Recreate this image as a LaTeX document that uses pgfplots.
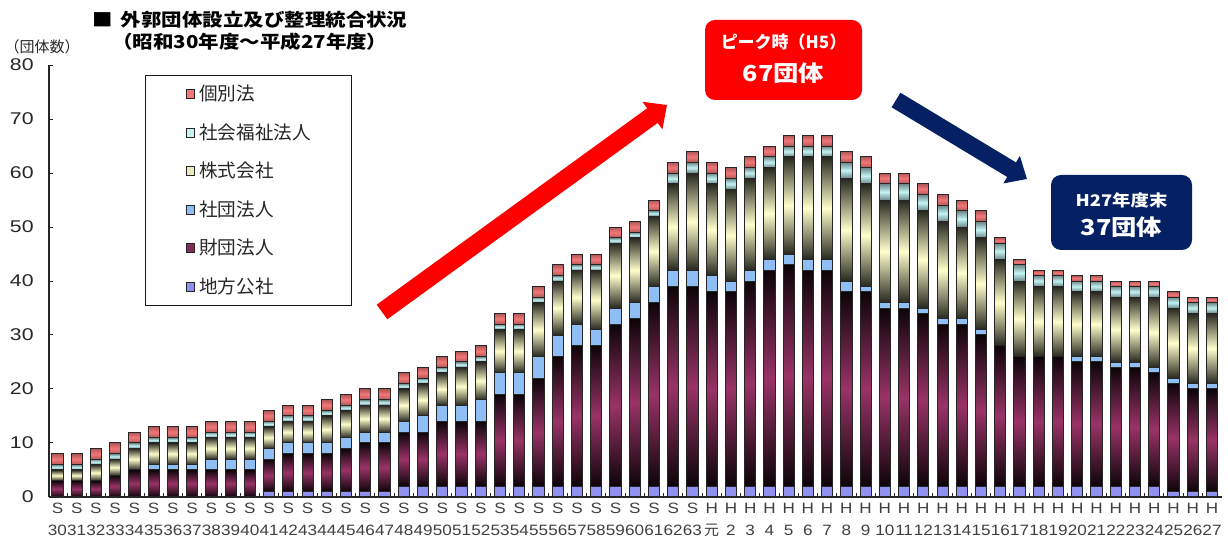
\documentclass[border=0pt]{standalone}
\usepackage{fontspec}
\usepackage{pgfplots}
\usepackage{pgfplotstable}
\pgfplotsset{compat=1.18}
\usetikzlibrary{arrows.meta}
\setmainfont{Noto Sans CJK JP}
\newfontfamily\jp{Noto Sans CJK JP}
\newfontfamily\jps{Noto Sans CJK JP}[FakeStretch=1.15]
\newfontfamily\lat{Liberation Sans}[FakeStretch=1.14]
\newfontfamily\laty{Liberation Sans}[FakeStretch=1.25]

\definecolor{kobetsuC}{HTML}{F47878}
\definecolor{fukushiC}{HTML}{C4F4F4}
\definecolor{kabuC}{HTML}{FFFFCC}
\definecolor{shadanC}{HTML}{8EBEF4}
\definecolor{zaidanC}{HTML}{993366}
\definecolor{chihoC}{HTML}{9090F0}
\definecolor{arrowred}{HTML}{FF0000}
\definecolor{navy}{HTML}{062163}

\pgfplotstableread{
x chiho zaidan shadan kabu fukushi kobetsu
0 0 3 0 2 1 2
1 0 3 0 2 1 2
2 0 3 0 3 1 2
3 0 4 0 3 1 2
4 0 5 0 4 1 2
5 0 5 1 4 1 2
6 0 5 1 4 1 2
7 0 5 1 4 1 2
8 0 5 2 4 1 2
9 0 5 2 4 1 2
10 0 5 2 4 1 2
11 1 6 2 4 1 2
12 1 7 2 4 1 2
13 1 7 2 4 1 2
14 1 7 2 5 1 2
15 1 8 2 5 1 2
16 1 9 2 5 1 2
17 1 9 2 5 1 2
18 2 10 2 6 1 2
19 2 10 3 6 1 2
20 2 12 3 6 1 2
21 2 12 3 7 1 2
22 2 12 4 7 1 2
23 2 17 4 8 1 2
24 2 17 4 8 1 2
25 2 20 4 10 1 2
26 2 24 4 10 1 2
27 2 26 4 10 1 2
28 2 26 3 11 1 2
29 2 30 3 12 1 2
30 2 31 3 12 1 2
31 2 34 3 13 1 2
32 2 37 3 16 2 2
33 2 37 3 18 2 2
34 2 36 3 17 2 2
35 2 36 2 17 2 2
36 2 38 2 17 2 2
37 2 40 2 17 2 2
38 2 41 2 18 2 2
39 2 40 2 19 2 2
40 2 40 2 19 2 2
41 2 36 2 19 3 2
42 2 36 1 19 3 2
43 2 33 1 19 3 2
44 2 33 1 19 3 2
45 2 32 1 18 3 2
46 2 30 1 18 3 2
47 2 30 1 17 3 2
48 2 28 1 17 3 2
49 2 26 0 16 3 1
50 2 24 0 14 3 1
51 2 24 0 13 2 1
52 2 24 0 13 2 1
53 2 23 1 12 2 1
54 2 23 1 12 2 1
55 2 22 1 12 2 1
56 2 22 1 12 2 1
57 2 21 1 13 2 1
58 1 20 1 13 2 1
59 1 19 1 13 2 1
60 1 19 1 13 2 1
}\data

\pgfdeclareplotmark{none0}{}
\pgfplotsset{
  sq/.style={legend image code/.code={\path[draw=black!85,fill=#1,line width=0.5pt] (0pt,-2.2pt) rectangle (4.4pt,2.2pt);}},
  shbar/.style n args={3}{forget plot, only marks, scatter, mark=none0,
    visualization depends on={\thisrow{#1} \as \segv},
    scatter/@pre marker code/.code={\path[draw=black!85, line width=0.5pt, top color=#3, bottom color=#3, middle color=#2] (-2.8pt,{-\segv*2.7pt}) rectangle (2.8pt,0pt);},
    scatter/@post marker code/.code={}},
}

\begin{document}
\begin{tikzpicture}
\useasboundingbox (0,0) rectangle (614pt,270pt);
\begin{axis}[
  scale only axis, width=586.5pt, height=216pt,
  at={(24.5pt,21.5pt)}, anchor=south west,
  xmin=-0.44, xmax=60.52, ymin=0, ymax=80,
  ybar stacked, bar width=5.6pt,
  axis x line*=bottom, axis y line*=left,
  axis line style={-, black!85, line width=0.6pt},
  ytick={0,10,...,80},
  xtick={0.5,1.5,...,59.5}, xticklabels={},
  extra x ticks={0,1,...,60},
  extra x tick style={major tick length=0pt},
  extra x tick labels={{S\\30},{S\\31},{S\\32},{S\\33},{S\\34},{S\\35},{S\\36},{S\\37},{S\\38},{S\\39},{S\\40},{S\\41},{S\\42},{S\\43},{S\\44},{S\\45},{S\\46},{S\\47},{S\\48},{S\\49},{S\\50},{S\\51},{S\\52},{S\\53},{S\\54},{S\\55},{S\\56},{S\\57},{S\\58},{S\\59},{S\\60},{S\\61},{S\\62},{S\\63},{H\\{\jp 元}},{H\\2},{H\\3},{H\\4},{H\\5},{H\\6},{H\\7},{H\\8},{H\\9},{H\\10},{H\\11},{H\\12},{H\\13},{H\\14},{H\\15},{H\\16},{H\\17},{H\\18},{H\\19},{H\\20},{H\\21},{H\\22},{H\\23},{H\\24},{H\\25},{H\\26},{H\\27}},
  tick align=inside, major tick length=2.2pt,
  tick style={black!85, line width=0.5pt},
  /pgf/number format/assume math mode=true,
  yticklabel style={font=\laty\fontsize{8.5}{10}\selectfont, text=black!85, inner sep=0pt, anchor=east, xshift=-7.5pt},
  xticklabel style={font=\lat\fontsize{7.5}{11}\selectfont, text=black!75, align=center, inner sep=0pt, anchor=north, yshift=-3pt},
  legend style={at={(0.0818,0.9769)}, anchor=north west, draw=black!90, line width=0.6pt, fill=white,
    inner xsep=20pt, inner ysep=5.1pt, row sep=10.75pt, column sep=2pt,
    font=\jp\fontsize{9.3}{11}\selectfont, text=black!85,
    nodes={inner sep=0pt, text height=7.5pt, text depth=1pt, text width=56pt, anchor=west}},
  legend cell align=left, reverse legend,
]
\addplot[forget plot, draw=black!85, line width=0.5pt, fill=chihoC] table[x=x,y=chiho]{\data};
\addplot[shbar={zaidan}{zaidanC}{zaidanC!8!black}] table[x=x,y=zaidan]{\data};
\addplot[forget plot, draw=black!85, line width=0.5pt, fill=shadanC] table[x=x,y=shadan]{\data};
\addplot[shbar={kabu}{kabuC}{kabuC!15!black}] table[x=x,y=kabu]{\data};
\addplot[shbar={fukushi}{fukushiC}{fukushiC!55!black}] table[x=x,y=fukushi]{\data};
\addplot[shbar={kobetsu}{kobetsuC}{kobetsuC!72!black}] table[x=x,y=kobetsu]{\data};
\addlegendimage{sq=chihoC}
\addlegendentry{地方公社}
\addlegendimage{sq=zaidanC!85!black}
\addlegendentry{財団法人}
\addlegendimage{sq=shadanC}
\addlegendentry{社団法人}
\addlegendimage{sq=kabuC!92!black}
\addlegendentry{株式会社}
\addlegendimage{sq=fukushiC}
\addlegendentry{社会福祉法人}
\addlegendimage{sq=kobetsuC}
\addlegendentry{個別法}
\end{axis}
% title
\node[anchor=west, inner sep=0pt, font=\jps\bfseries\fontsize{8.9}{10}\selectfont] at (46pt,260pt) {■\hspace{4pt}外郭団体設立及び整理統合状況};
\node[anchor=west, inner sep=0pt, font=\jps\bfseries\fontsize{8.9}{10}\selectfont] at (56pt,249.25pt) {（昭和30年度～平成27年度）};
\node[inner sep=0pt, font=\jp\fontsize{7.5}{9}\selectfont, text=black!85] at (21pt,246.75pt) {（団体数）};
% arrows
\draw[line width=9pt, arrowred, -{Triangle[width=16.5pt,length=9pt]}] (191pt,114pt) -- (333.5pt,217.5pt);
\draw[line width=8.5pt, navy, -{Triangle[width=15.5pt,length=9pt]}] (448pt,220pt) -- (513.5pt,180.5pt);
% boxes
\fill[arrowred, rounded corners=5pt] (352.5pt,260pt) rectangle (431pt,220pt);
\node[text=white, inner sep=0pt, font=\jp\bfseries\fontsize{8.5}{10}\selectfont] at (391.75pt,249pt) {ピーク時（H5）};
\node[text=white, inner sep=0pt, font=\jps\bfseries\fontsize{11}{13}\selectfont] at (391.75pt,233.5pt) {67団体};
\fill[navy, rounded corners=5pt] (525.5pt,182.5pt) rectangle (596pt,145pt);
\node[text=white, inner sep=0pt, font=\jps\bfseries\fontsize{8}{10}\selectfont] at (560.75pt,170pt) {H27年度末};
\node[text=white, inner sep=0pt, font=\jps\bfseries\fontsize{11}{13}\selectfont] at (560.75pt,156.5pt) {37団体};
\end{tikzpicture}
\end{document}
